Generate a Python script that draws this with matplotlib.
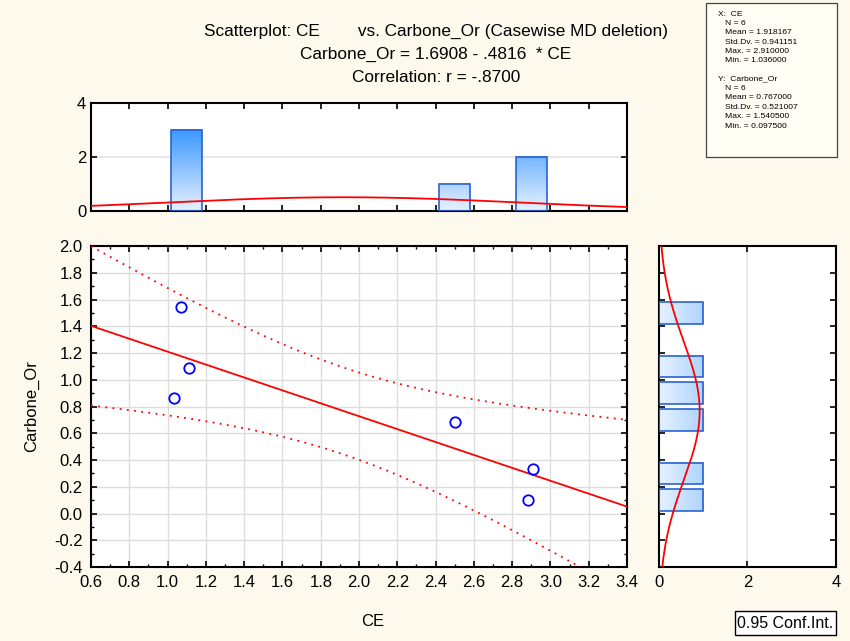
import numpy as np
import matplotlib
matplotlib.use("Agg")
import matplotlib.pyplot as plt
from matplotlib.colors import LinearSegmentedColormap
from matplotlib.patches import Rectangle
from matplotlib.ticker import MultipleLocator

plt.rcParams['font.family'] = ['Liberation Sans', 'DejaVu Sans']

# ---- data ----
ce = [1.068, 1.11, 1.036, 2.50, 2.91, 2.885]
carbone = [1.5405, 1.09, 0.86, 0.6825, 0.3315, 0.0975]

ce_bin_centers = [1.1, 2.5, 2.9]
ce_bin_counts = [3, 1, 2]
carb_bin_centers = [1.5, 1.1, 0.9, 0.7, 0.3, 0.1]
carb_bin_counts = [1, 1, 1, 1, 1, 1]
bin_width = 0.2
t_crit = 2.776445  # t(0.975, df=4)

title_lines = ["Scatterplot: CE        vs. Carbone_Or (Casewise MD deletion)",
               "Carbone_Or = 1.6908 - .4816  * CE",
               "Correlation: r = -.8700"]
stats_x = ["X:  CE", "N = 6", "Mean = 1.918167", "Std.Dv. = 0.941151",
           "Max. = 2.910000", "Min. = 1.036000"]
stats_y = ["Y:  Carbone_Or", "N = 6", "Mean = 0.767000", "Std.Dv. = 0.521007",
           "Max. = 1.540500", "Min. = 0.097500"]

BG = '#fdf9ed'
EDGE = '#2a62d4'
cmap = LinearSegmentedColormap.from_list('g', ['#e6f2ff', '#3a97ff'])
TICK_FS = 12

fig = plt.figure(figsize=(8.5, 6.41), dpi=100, facecolor=BG)

x = np.array(ce); y = np.array(carbone); n = len(x)
slope, intercept = np.polyfit(x, y, 1)
xm = x.mean()
resid = y - (intercept + slope * x)
s = np.sqrt((resid ** 2).sum() / (n - 2))
sxx = ((x - xm) ** 2).sum()

# ---- main scatter ----
ax = fig.add_axes([0.1071, 0.1154, 0.6306, 0.5008])
xx = np.linspace(0.6, 3.4, 300)
fit = intercept + slope * xx
hw = t_crit * s * np.sqrt(1.0 / n + (xx - xm) ** 2 / sxx)
ax.plot(xx, fit, color='#ff0000', lw=1.3, zorder=3)
ax.plot(xx, fit + hw, color='#ff0000', lw=1.3, ls=(0, (1, 3)), zorder=3)
ax.plot(xx, fit - hw, color='#ff0000', lw=1.3, ls=(0, (1, 3)), zorder=3)
ax.plot(x, y, 'o', mfc='none', mec='#0000ff', ms=7.5, mew=1.3, zorder=4)
ax.set_xlim(0.6, 3.4)
ax.set_ylim(-0.4, 2.0)
ax.xaxis.set_minor_locator(MultipleLocator(0.1))
ax.yaxis.set_minor_locator(MultipleLocator(0.1))
ax.set_xticks(np.arange(0.6, 3.41, 0.2))
ax.set_xticklabels([f"{v:.1f}" for v in np.arange(0.6, 3.41, 0.2)])
ax.set_yticks(np.arange(-0.4, 2.01, 0.2))
ax.set_yticklabels([f"{v:.1f}" for v in np.arange(-0.4, 2.01, 0.2)])
ax.grid(True, which='major', color='#dddddd', lw=1.0)
ax.set_axisbelow(True)
ax.tick_params(which='both', direction='in', top=True, right=True, labelsize=TICK_FS, color='black')
ax.tick_params(which='major', length=4, width=1.2, pad=6)
ax.tick_params(which='minor', length=2, width=1.0)
for sp in ax.spines.values():
    sp.set_linewidth(1.5)

# ---- top histogram ----
axt = fig.add_axes([0.1071, 0.6708, 0.6306, 0.1685])
bw_draw = 0.16
for c, h in zip(ce_bin_centers, ce_bin_counts):
    grad = np.linspace(0, h, 100).reshape(-1, 1)
    axt.imshow(grad, extent=[c - bw_draw / 2, c + bw_draw / 2, 0, h], origin='lower',
               cmap=cmap, vmin=0, vmax=3, aspect='auto', zorder=2)
    axt.add_patch(Rectangle((c - bw_draw / 2, 0), bw_draw, h, fill=False,
                            ec=EDGE, lw=1.2, zorder=3))
sx = x.std(ddof=1)
axt.plot(xx, n * bin_width * np.exp(-0.5 * ((xx - xm) / sx) ** 2) / (sx * np.sqrt(2 * np.pi)),
         color='#ff0000', lw=1.3, zorder=4)
axt.set_xlim(0.6, 3.4)
axt.set_ylim(0, 4)
axt.xaxis.set_major_locator(MultipleLocator(0.2))
axt.set_yticks([0, 2, 4])
axt.axhline(2, color='#e4e4e4', lw=1.2, zorder=1)
axt.tick_params(direction='in', top=True, right=True, labelsize=TICK_FS, length=4, width=1.2)
axt.tick_params(axis='x', labelbottom=False)
for sp in axt.spines.values():
    sp.set_linewidth(1.5)

# ---- side histogram ----
axs = fig.add_axes([0.7753, 0.1154, 0.2082, 0.5008])
for c, w in zip(carb_bin_centers, carb_bin_counts):
    grad = np.linspace(0, w, 100).reshape(1, -1)
    axs.imshow(grad, extent=[0, w, c - bw_draw / 2, c + bw_draw / 2], origin='lower',
               cmap=cmap, vmin=0, vmax=3, aspect='auto', zorder=2)
    axs.add_patch(Rectangle((0, c - bw_draw / 2), w, bw_draw, fill=False,
                            ec=EDGE, lw=1.2, zorder=3))
ym = y.mean(); sy = y.std(ddof=1)
yy = np.linspace(-0.4, 2.0, 300)
axs.plot(n * bin_width * np.exp(-0.5 * ((yy - ym) / sy) ** 2) / (sy * np.sqrt(2 * np.pi)), yy,
         color='#ff0000', lw=1.3, zorder=4)
axs.set_xlim(0, 4)
axs.set_ylim(-0.4, 2.0)
axs.set_xticks([0, 2, 4])
axs.yaxis.set_major_locator(MultipleLocator(0.2))
axs.axvline(2, color='#e4e4e4', lw=1.2, zorder=1)
axs.tick_params(direction='in', top=True, right=True, labelsize=TICK_FS, length=4, width=1.2, pad=6)
axs.tick_params(axis='y', labelleft=False)
for sp in axs.spines.values():
    sp.set_linewidth(1.5)

# ---- titles & labels ----
for i, t in enumerate(title_lines):
    fig.text(0.513, 0.9516 - i * 0.0359, t, ha='center', va='center', fontsize=12.4)
fig.text(373 / 850, 1 - 621 / 641, "CE", ha='center', va='center', fontsize=12)
fig.text(32 / 850, 1 - 406 / 641, "Carbone_Or", ha='center', va='center',
         fontsize=12, rotation=90)

# ---- stats box ----
fig.patches.append(Rectangle((706 / 850, 1 - 157 / 641), 131 / 850, 154 / 641,
                             transform=fig.transFigure, fc='#fffdf4', ec='#444444', lw=0.9))
for i, t in enumerate(stats_x):
    xpos = 718 / 850 if i == 0 else 725 / 850
    fig.text(xpos, 1 - (14 + i * 9.4) / 641, t, ha='left', va='center', fontsize=6.1)
for i, t in enumerate(stats_y):
    xpos = 718 / 850 if i == 0 else 725 / 850
    fig.text(xpos, 1 - (79 + i * 9.4) / 641, t, ha='left', va='center', fontsize=6.1)

# ---- conf int box ----
fig.patches.append(Rectangle((735 / 850, 1 - 635 / 641), 101 / 850, 24 / 641,
                             transform=fig.transFigure, fc='#ffffff', ec='black', lw=1.0))
fig.text(785.5 / 850, 1 - 623 / 641, "0.95 Conf.Int.", ha='center', va='center', fontsize=11.5)

fig.savefig("out.png", dpi=100, facecolor=BG)
